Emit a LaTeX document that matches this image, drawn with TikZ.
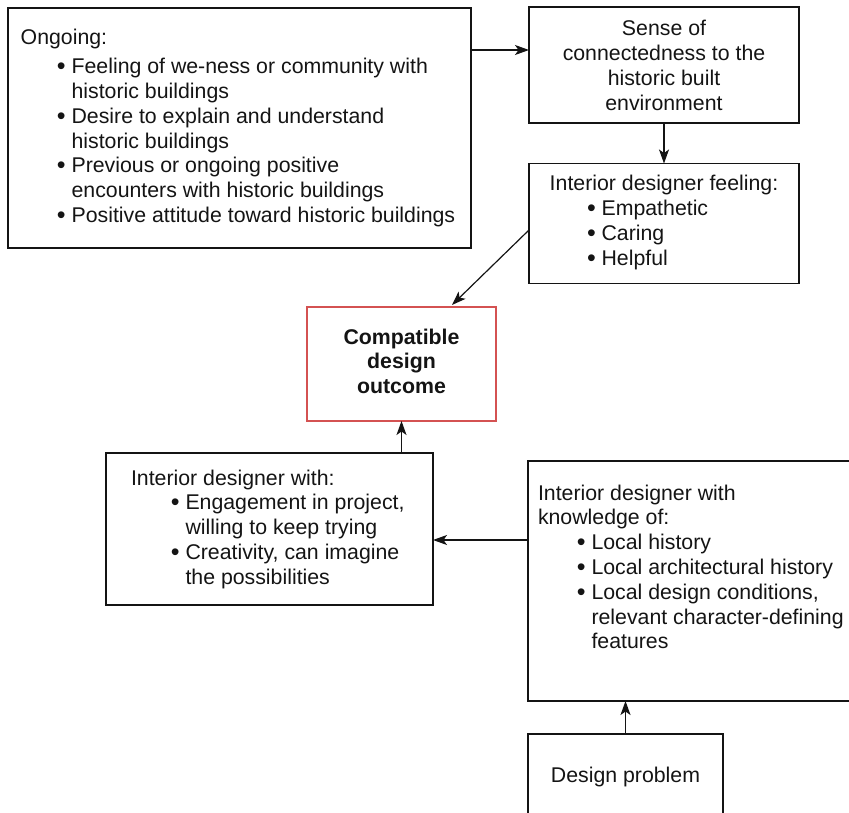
\documentclass[tikz,border=0pt]{standalone}
\usepackage{fontspec}
\setmainfont{Liberation Sans}
\usetikzlibrary{arrows.meta}

% line layout helpers: fixed baseline spacing, headings, bullets, continuations
\newlength\lsk \setlength\lsk{24.8pt}
\newcommand\tlines[1]{\vtop{\baselineskip=\lsk\lineskiplimit=-100pt\lineskip=0pt #1}}
\newcommand\dotmark{\raisebox{-0.9pt}{\fontsize{25}{25}\selectfont\textbullet}}
\newcommand\hd[1]{\hbox{#1}}
\newcommand\bu[2]{\hbox{\hspace*{#1pt}\makebox[14pt][l]{\hspace*{-0.6pt}\dotmark}#2}}
\newcommand\co[2]{\hbox{\hspace*{#1pt}\hspace*{14pt}#2}}
\newcommand\ce[2]{\hbox to #1pt{\hfil#2\hfil}}

\definecolor{ink}{RGB}{20,20,20}
\definecolor{outred}{RGB}{212,82,82}

\begin{document}
\begin{tikzpicture}[x=1pt,y=-1pt,
  box/.style={draw=ink, line width=1.3pt, rectangle, inner sep=0pt, outer sep=0pt},
  goalbox/.style={draw=outred, line width=1.2pt, rectangle, inner sep=0pt, outer sep=0pt},
  txt/.style={inner sep=0pt, outer sep=0pt, anchor=base west, text=ink,
    font=\fontsize{21.3}{24.8}\selectfont},
  arr/.style={draw=ink, line width=1.2pt, -{Stealth[length=14pt,width=10pt,inset=3.5pt]}}]

\useasboundingbox (0,0) rectangle (849,813);
\clip (0,0) rectangle (849,813);

% boxes
\node[box, minimum width=463pt, minimum height=240pt] (a) at (239.5,128) {};
\node[box, minimum width=270pt, minimum height=116pt] (b) at (664,65) {};
\node[box, minimum width=270pt, minimum height=120pt] (c) at (664,223.5) {};
\node[goalbox, minimum width=189pt, minimum height=114pt] (r) at (401.5,364) {};
\node[box, minimum width=327pt, minimum height=152pt] (d) at (269.5,529) {};
\node[box, minimum width=334pt, minimum height=240pt] (e) at (695,581) {};
\node[box, minimum width=195pt, minimum height=98pt] (f) at (625.5,783) {};

% texts
\node[txt] (atext) at (20.7,45) {\tlines{%
  \hd{Ongoing:}\vskip4pt
  \bu{36.9}{Feeling of we-ness or community with}
  \co{36.9}{historic buildings}
  \bu{36.9}{Desire to explain and understand}
  \co{36.9}{historic buildings}
  \bu{36.9}{Previous or ongoing positive}
  \co{36.9}{encounters with historic buildings}
  \bu{36.9}{Positive attitude toward historic buildings}}};

\node[txt] (btext) at (529,36) {\tlines{%
  \ce{270}{Sense of}
  \ce{270}{connectedness to the}
  \ce{270}{historic built}
  \ce{270}{environment}}};

\node[txt] (ctext) at (529,191) {\tlines{%
  \ce{270}{Interior designer feeling:}
  \bu{58.6}{Empathetic}
  \bu{58.6}{Caring}
  \bu{58.6}{Helpful}}};

\node[txt, font=\fontsize{21.3}{24.8}\selectfont\bfseries] (rtext) at (307,344) {\tlines{%
  \ce{189}{Compatible}
  \ce{189}{design}
  \ce{189}{outcome}}};

\node[txt] (dtext) at (131,485) {\tlines{%
  \hd{Interior designer with:}
  \bu{40.5}{Engagement in project,}
  \co{40.5}{willing to keep trying}
  \bu{40.5}{Creativity, can imagine}
  \co{40.5}{the possibilities}}};

\node[txt] (etext) at (538,500) {\tlines{%
  \hd{Interior designer with}
  \hd{knowledge of:}
  \bu{39.5}{Local history}
  \bu{39.5}{Local architectural history}
  \bu{39.5}{Local design conditions,}
  \co{39.5}{relevant character-defining}
  \co{39.5}{features}}};

\node[txt] (ftext) at (528,782) {\tlines{\ce{195}{Design problem}}};

% connectors
\coordinate (bin) at ([yshift=15pt]b.west);
\draw[arr] (a.east |- bin) -- (bin);
\draw[arr] (b.south) -- (c.north);
\draw[arr] ([yshift=-6.5pt]c.west) -- ([xshift=-44pt,yshift=2pt]r.north east);
\draw[arr] (r.south |- d.north) -- (r.south);
\coordinate (din) at ([yshift=-11pt]d.east);
\draw[arr] (e.west |- din) -- (din);
\draw[arr] (f.north) -- (f.north |- e.south);
\end{tikzpicture}
\end{document}
